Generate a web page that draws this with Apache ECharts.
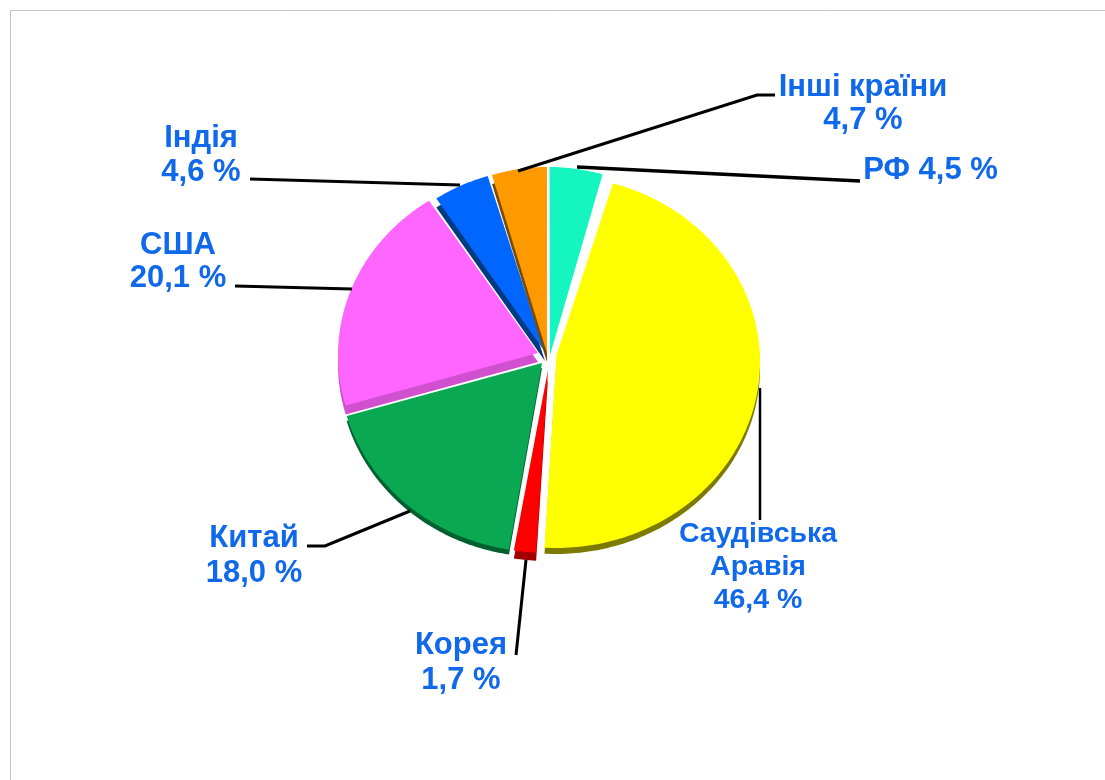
<!DOCTYPE html>
<html>
<head>
<meta charset="utf-8">
<style>html,body{margin:0;padding:0;background:#fff}#c{width:1105px;height:780px}</style>
<script src="https://cdn.jsdelivr.net/npm/echarts@6/dist/echarts.min.js"></script>
</head>
<body>
<div id="c"></div>
<script>
// Data (starting at 12 o'clock, clockwise)
const categories = ['РФ', 'Саудівська\nАравія', 'Корея', 'Китай', 'США', 'Індія', 'Інші країни'];
const values = [4.5, 46.4, 1.7, 18.0, 20.1, 4.6, 4.7];
const separators = [' ', '\n', '\n', '\n', '\n', '\n', '\n'];

// Colours
const faceColors = ['#14f5c0', '#ffff00', '#ff0000', '#0aa852', '#ff66ff', '#0066ff', '#ff9900'];
const sideColors = ['#14f5c0', '#7d7a00', '#a00000', '#006030', '#d050d0', '#003a80', '#7a4a00'];

// Layout of each slice: [apexX, apexY, ellipseCx, ellipseCy, rx, ry, depth]
const sliceLayout = [
  [550, 355, 549.5, 355, 190, 188, 0],
  [556.5, 355, 556, 362, 204, 186, 6],
  [548, 370, 548, 366, 210, 187, 8],
  [542, 363, 542, 365, 203, 187, 5],
  [538, 353, 541, 355, 203, 185, 9],
  [545, 352, 545, 352, 197, 184, 9],
  [547, 353, 547, 353, 189, 186, 9]
];
// Leader lines and label styling
const leaderLines = [
  [[577, 167], [860, 181]],
  [[760, 388], [760, 520]],
  [[526, 560], [516, 655]],
  [[410, 511], [325, 546], [307, 546]],
  [[352, 289], [235, 286]],
  [[460, 185], [250, 179]],
  [[518, 171], [757, 95], [775, 95]]
];
const leaderWidths = [3.5, 2.5, 3, 3, 3, 3, 3];
const labelAnchors = [[930.5, 170], [758, 567], [461, 663], [254, 556], [178, 262], [201, 155], [863, 104]];
const labelSizes = [31, 28.5, 31, 31, 31, 31, 31];
const labelLineHeights = [34, 33, 35, 35, 33, 34, 33];
const textColor = '#1068ea';

const total = values.reduce((a, b) => a + b, 0);
const fmt = v => v.toFixed(1).replace('.', ',') + ' %';

function slicePoints(i, from, to, shift) {
  const [ax, ay, cx, cy, rx, ry] = sliceLayout[i];
  const pts = [[ax, ay + shift]];
  const n = Math.max(2, Math.ceil((to - from) * 180 / Math.PI));
  for (let k = 0; k <= n; k++) {
    const t = from + (to - from) * k / n;
    pts.push([cx + rx * Math.sin(t), cy + shift - ry * Math.cos(t)]);
  }
  return pts;
}

function renderItem(params, api) {
  const i = params.dataIndex;
  let before = 0;
  for (let k = 0; k < i; k++) before += values[k];
  const from = before / total * 2 * Math.PI;
  const to = (before + api.value(0)) / total * 2 * Math.PI;
  const depth = sliceLayout[i][6];
  const children = [];
  if (depth > 0) {
    children.push({
      type: 'polygon', silent: true,
      shape: { points: slicePoints(i, from, to, depth) },
      style: { fill: sideColors[i] }
    });
  }
  children.push({
    type: 'polygon', silent: true,
    shape: { points: slicePoints(i, from, to, 0) },
    style: { fill: faceColors[i] }
  });
  children.push({
    type: 'polyline', silent: true,
    shape: { points: leaderLines[i] },
    style: { stroke: '#000', lineWidth: leaderWidths[i], fill: null },
    z2: 10
  });
  children.push({
    type: 'text', silent: true,
    x: labelAnchors[i][0], y: labelAnchors[i][1],
    style: {
      text: categories[i] + separators[i] + fmt(api.value(0)),
      font: 'bold ' + labelSizes[i] + 'px "Liberation Sans", Arial, sans-serif',
      fill: textColor, align: 'center', verticalAlign: 'middle', lineHeight: labelLineHeights[i]
    },
    z2: 11
  });
  return { type: 'group', children };
}

const chart = echarts.init(document.getElementById('c'), null, { renderer: 'canvas' });
chart.setOption({
  animation: false,
  backgroundColor: '#ffffff',
  graphic: [{
    type: 'polyline', silent: true,
    shape: { points: [[10.5, 780], [10.5, 10.5], [1105, 10.5]] },
    style: { stroke: '#c4c4c4', lineWidth: 1, fill: null }
  }],
  series: [{
    type: 'custom',
    coordinateSystem: 'none',
    silent: true,
    renderItem,
    data: values.map((v, i) => ({ name: categories[i], value: [v] }))
  }]
});
</script>
</body>
</html>
